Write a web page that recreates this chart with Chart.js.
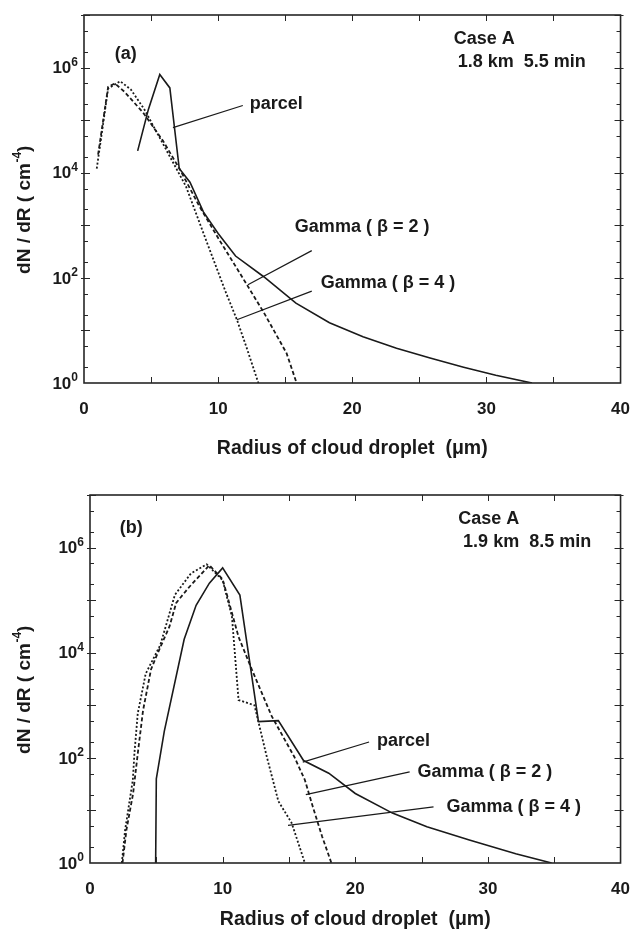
<!DOCTYPE html>
<html>
<head>
<meta charset="utf-8">
<script src="https://cdn.jsdelivr.net/npm/chart.js@4"></script>
<style>
  html, body { margin: 0; padding: 0; background: #fff; }
  canvas { display: block; }
</style>
</head>
<body>
<canvas id="chartA" width="638" height="460"></canvas>
<canvas id="chartB" width="638" height="471"></canvas>
<script>
// radius (um) and dN/dR (cm-4) for each curve, panel (a)
var radiusParcelA = [4.0, 4.8, 5.65, 6.4, 7.1, 7.9, 8.9, 10.0, 11.3, 13.4, 15.8, 18.3, 20.8, 23.3, 25.8, 28.3, 30.7, 33.4];
var parcelA = [2.6e4, 1.6e5, 7.4e5, 4.1e5, 1.2e4, 6.6e3, 1.8e3, 700, 260, 105, 33, 14, 7.6, 4.6, 3.0, 2.0, 1.4, 1];
var radiusGamma2A = [1.05, 1.8, 2.3, 3.0, 4.4, 5.9, 7.15, 8.6, 10.1, 11.6, 13.4, 15.1, 15.85];
var gamma2A = [2.2e4, 4.3e5, 5.0e5, 3.5e5, 1.4e5, 4.0e4, 1.15e4, 2.3e3, 520, 125, 22, 3.7, 1];
var radiusGamma4A = [0.95, 1.8, 2.7, 3.5, 4.5, 5.9, 7.6, 9.1, 10.6, 11.4, 12.1, 13.0];
var gamma4A = [1.2e4, 4.0e5, 5.5e5, 3.8e5, 1.6e5, 3.5e4, 5.5e3, 520, 51, 16, 4.9, 1];

// panel (b)
var radiusParcelB = [4.95, 5.0, 5.6, 7.1, 8.0, 9.0, 10.0, 11.3, 12.7, 14.2, 16.1, 18.0, 20.0, 22.8, 25.4, 28.6, 32.1, 34.8];
var parcelB = [1, 40, 320, 1.8e4, 8.0e4, 2.1e5, 4.1e5, 1.25e5, 490, 510, 89, 51, 21, 8.9, 4.9, 2.75, 1.5, 1];
var radiusGamma2B = [2.45, 2.75, 3.25, 3.6, 4.0, 4.6, 5.0, 6.0, 6.5, 7.5, 9.0, 10.0, 11.2, 12.2, 13.7, 15.4, 16.2, 16.8, 17.5, 18.2];
var gamma2B = [1, 4.3, 21, 120, 800, 4.8e3, 8.5e3, 3.2e4, 8.9e4, 1.8e5, 4.6e5, 2.5e5, 2.0e4, 4.8e3, 620, 105, 38, 11.7, 3.2, 1];
var radiusGamma4B = [2.4, 2.65, 3.23, 3.35, 3.6, 4.2, 5.3, 6.4, 7.6, 8.8, 10.0, 10.7, 11.2, 12.4, 13.3, 14.2, 15.2, 16.2];
var gamma4B = [1, 4.3, 38, 123, 700, 4.0e3, 1.4e4, 1.26e5, 3.2e5, 4.8e5, 2.4e5, 4.9e4, 1.26e3, 1.0e3, 112, 15, 5.8, 1];

// axis ticks
var xTickLabels = [0, 10, 20, 30, 40];
var yDecades = [0, 2, 4, 6];

var FONT = "'Liberation Sans', Arial, Helvetica, sans-serif";
var INK = '#1a1a1a';

// text placed on each panel, positions in data units (radius, dN/dR)
var notesA = [
  { text: '(a)', x: 2.3, y: 1.8e6 },
  { text: 'Case A', x: 27.56, y: 3.5e6 },
  { text: '1.8 km  5.5 min', x: 27.86, y: 1.3e6 },
  { text: 'parcel', x: 12.36, y: 2.0e5 },
  { text: 'Gamma ( \u03B2 = 2 )', x: 15.72, y: 930 },
  { text: 'Gamma ( \u03B2 = 4 )', x: 17.65, y: 78 }
];
var leadersA = [
  [[6.63, 7.2e4], [11.84, 1.9e5]],
  [[12.22, 74], [16.98, 330]],
  [[11.4, 16], [16.98, 56]]
];
var notesB = [
  { text: '(b)', x: 2.24, y: 2.4e6 },
  { text: 'Case A', x: 27.76, y: 3.5e6 },
  { text: '1.9 km  8.5 min', x: 28.13, y: 1.3e6 },
  { text: 'parcel', x: 21.64, y: 210 },
  { text: 'Gamma ( \u03B2 = 2 )', x: 24.7, y: 54 },
  { text: 'Gamma ( \u03B2 = 4 )', x: 26.87, y: 11.7 }
];
var leadersB = [
  [[16.04, 83], [21.04, 200]],
  [[16.27, 20], [24.1, 54]],
  [[14.93, 5.2], [25.9, 11.7]]
];

function pairs(xs, ys) {
  return xs.map(function (x, i) { return { x: x, y: ys[i] }; });
}

function curve(label, xs, ys, dash) {
  return {
    label: label,
    data: pairs(xs, ys),
    showLine: true,
    borderColor: INK,
    borderWidth: dash.length ? 1.8 : 1.6,
    borderDash: dash,
    pointRadius: 0,
    tension: 0
  };
}

// frame, inward ticks, y labels with exponents, y title and annotations
function decorPlugin(notes, leaders) {
  return {
    id: 'decor',
    afterDatasetsDraw: function (chart) {
      var ctx = chart.ctx;
      var a = chart.chartArea;
      var xs = chart.scales.x, ys = chart.scales.y;
      ctx.save();
      ctx.strokeStyle = '#262626';
      ctx.lineWidth = 1.6;
      ctx.strokeRect(a.left, a.top, a.right - a.left, a.bottom - a.top);

      ctx.lineWidth = 1;
      ctx.beginPath();
      for (var v = 5; v < 40; v += 5) {
        var px = Math.round(xs.getPixelForValue(v)) + 0.5;
        ctx.moveTo(px, a.bottom); ctx.lineTo(px, a.bottom - 6);
        ctx.moveTo(px, a.top); ctx.lineTo(px, a.top + 6);
      }
      for (var e = 0; e <= 7; e++) {
        [1, 2, 5].forEach(function (m) {
          var val = m * Math.pow(10, e);
          if (val > 1e7 || val <= 1) return;
          var py = Math.round(ys.getPixelForValue(val)) + 0.5;
          var major = m === 1;
          ctx.moveTo(a.left - (major ? 3 : 0), py); ctx.lineTo(a.left + (major ? 6 : 4), py);
          ctx.moveTo(a.right + (major ? 3 : 0), py); ctx.lineTo(a.right - (major ? 6 : 4), py);
        });
      }
      ctx.stroke();

      // y tick labels 10^n
      ctx.fillStyle = INK;
      ctx.textBaseline = 'middle';
      yDecades.forEach(function (d) {
        var py = ys.getPixelForValue(Math.pow(10, d));
        ctx.font = 'bold 12px ' + FONT;
        var ew = ctx.measureText(String(d)).width;
        ctx.textAlign = 'left';
        ctx.fillText(String(d), a.left - 6 - ew, py - 5);
        ctx.font = 'bold 17px ' + FONT;
        ctx.textAlign = 'right';
        ctx.fillText('10', a.left - 6 - ew, py + 1);
      });

      // y title with superscript
      var main = 'dN / dR ( cm', sup = '-4', close = ')';
      ctx.font = 'bold 19px ' + FONT;
      var w1 = ctx.measureText(main).width, w3 = ctx.measureText(close).width;
      ctx.font = 'bold 12px ' + FONT;
      var w2 = ctx.measureText(sup).width;
      var total = w1 + w2 + w3;
      ctx.translate(25, (a.top + a.bottom) / 2 + 11);
      ctx.rotate(-Math.PI / 2);
      ctx.textAlign = 'left';
      ctx.font = 'bold 19px ' + FONT;
      ctx.fillText(main, -total / 2, 0);
      ctx.font = 'bold 12px ' + FONT;
      ctx.fillText(sup, -total / 2 + w1 + 0.5, -7);
      ctx.font = 'bold 19px ' + FONT;
      ctx.fillText(close, -total / 2 + w1 + w2 + 0.5, 0);
      ctx.setTransform(1, 0, 0, 1, 0, 0);

      // labels and leader lines
      ctx.strokeStyle = INK;
      ctx.lineWidth = 1.2;
      ctx.beginPath();
      leaders.forEach(function (l) {
        ctx.moveTo(xs.getPixelForValue(l[0][0]), ys.getPixelForValue(l[0][1]));
        ctx.lineTo(xs.getPixelForValue(l[1][0]), ys.getPixelForValue(l[1][1]));
      });
      ctx.stroke();
      ctx.font = 'bold 18px ' + FONT;
      ctx.textAlign = 'left';
      notes.forEach(function (n) {
        ctx.fillText(n.text, xs.getPixelForValue(n.x), ys.getPixelForValue(n.y));
      });
      ctx.restore();
    }
  };
}

function makeChart(id, sets, notes, leaders, pad, yWidth, xHeight) {
  return new Chart(document.getElementById(id), {
    type: 'scatter',
    data: { datasets: sets },
    options: {
      responsive: false,
      animation: false,
      layout: { padding: pad },
      plugins: { legend: { display: false }, tooltip: { enabled: false } },
      scales: {
        x: {
          type: 'linear', min: 0, max: 40,
          grid: { display: false }, border: { display: false },
          afterBuildTicks: function (s) { s.ticks = xTickLabels.map(function (v) { return { value: v }; }); },
          ticks: { padding: 8, color: INK, font: { family: FONT, size: 17, weight: 'bold' } },
          title: {
            display: true, text: 'Radius of cloud droplet  (\u03BCm)', color: INK, padding: 0,
            font: { family: FONT, size: 19.5, weight: 'bold' }
          },
          afterFit: function (s) { s.height = xHeight; }
        },
        y: {
          type: 'logarithmic', min: 1, max: 1e7,
          grid: { display: false }, border: { display: false },
          ticks: { display: false },
          afterFit: function (s) { s.width = yWidth; }
        }
      }
    },
    plugins: [decorPlugin(notes, leaders)]
  });
}

makeChart('chartA', [
  curve('parcel', radiusParcelA, parcelA, []),
  curve('Gamma (\u03B2 = 2)', radiusGamma2A, gamma2A, [4, 2.5]),
  curve('Gamma (\u03B2 = 4)', radiusGamma4A, gamma4A, [2, 2])
], notesA, leadersA, { left: 0, right: 17, top: 15, bottom: 0 }, 84, 77);

makeChart('chartB', [
  curve('parcel', radiusParcelB, parcelB, []),
  curve('Gamma (\u03B2 = 2)', radiusGamma2B, gamma2B, [4, 2.5]),
  curve('Gamma (\u03B2 = 4)', radiusGamma4B, gamma4B, [2, 2])
], notesB, leadersB, { left: 0, right: 12, top: 35, bottom: 0 }, 90, 68);
</script>
</body>
</html>
